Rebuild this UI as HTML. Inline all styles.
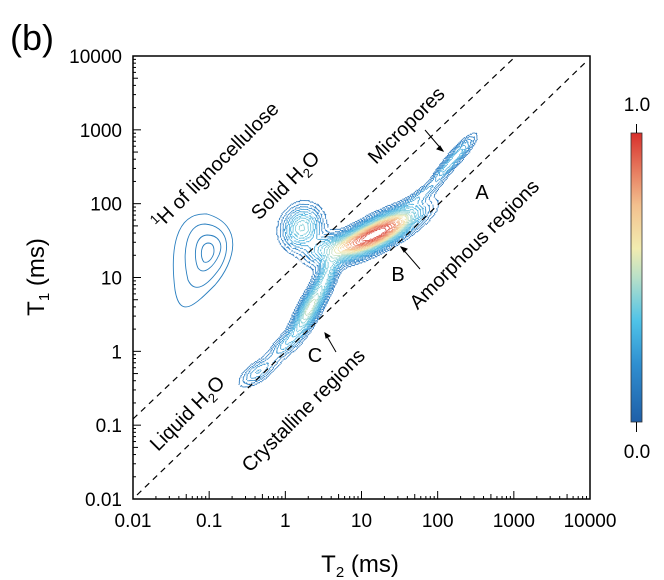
<!DOCTYPE html>
<html><head><meta charset="utf-8"><style>
body{margin:0;background:#fff}
svg{display:block;font-family:"Liberation Sans",Arial,sans-serif}
</style></head><body>
<svg id="s" width="664" height="580" viewBox="0 0 664 580" xmlns="http://www.w3.org/2000/svg">
<defs>
<linearGradient id="cb" x1="0" y1="1" x2="0" y2="0">
<stop offset="0" stop-color="#1f5fa8"/><stop offset="0.2" stop-color="#2f8fd0"/>
<stop offset="0.35" stop-color="#4fc3e8"/><stop offset="0.5" stop-color="#b8e0c8"/>
<stop offset="0.6" stop-color="#f2ecb0"/><stop offset="0.75" stop-color="#f3c08e"/>
<stop offset="1" stop-color="#d8302c"/></linearGradient>
</defs>
<text x="10" y="50" font-size="36">(b)</text>
<g id="contours" fill="none" stroke-width="0.9"></g>
<g stroke="#000" stroke-width="1.2" stroke-dasharray="6,5" fill="none">
<line x1="133" y1="419" x2="516" y2="56"/>
<line x1="137" y1="495" x2="588" y2="60"/>
</g>
<rect x="133" y="56" width="457" height="443" fill="none" stroke="#000" stroke-width="1.5"/>
<g id="ticks" stroke="#000" stroke-width="1"></g>
<g id="labels" font-size="19" fill="#000"></g>
<text x="44" y="277" font-size="24" text-anchor="middle" transform="rotate(-90 44 277)">T<tspan font-size="15" dy="5">1</tspan><tspan dy="-5"> (ms)</tspan></text>
<text x="360" y="572" font-size="24" text-anchor="middle">T<tspan font-size="15" dy="5">2</tspan><tspan dy="-5"> (ms)</tspan></text>
<g font-size="20" fill="#000">
<text transform="translate(220,170) rotate(-45)" text-anchor="middle"><tspan font-size="13" dy="-7">1</tspan><tspan dy="7">H of lignocellulose</tspan></text>
<text transform="translate(290,190) rotate(-45)" text-anchor="middle">Solid H<tspan font-size="13" dy="5">2</tspan><tspan dy="-5">O</tspan></text>
<text transform="translate(411,130) rotate(-45)" text-anchor="middle">Micropores</text>
<text x="482" y="199" text-anchor="middle">A</text>
<text transform="translate(479,249) rotate(-45)" text-anchor="middle">Amorphous regions</text>
<text x="398" y="281" text-anchor="middle">B</text>
<text x="315" y="362" text-anchor="middle">C</text>
<text transform="translate(308,415) rotate(-45)" text-anchor="middle">Crystalline regions</text>
<text transform="translate(192,418) rotate(-45)" text-anchor="middle">Liquid H<tspan font-size="13" dy="5">2</tspan><tspan dy="-5">O</tspan></text>
</g>
<g stroke="#000" stroke-width="1">
<line x1="425" y1="130" x2="443" y2="151"/><path d="M443 151 l-6 -2 l3 -3z" fill="#000"/>
<line x1="420" y1="269" x2="401" y2="247"/><path d="M401 247 l6 2 l-3 3z" fill="#000"/>
<line x1="336" y1="352" x2="325" y2="333"/><path d="M325 333 l5 3 l-4 2z" fill="#000"/>
</g>
<rect x="631" y="133" width="11" height="289" fill="url(#cb)" stroke="#333" stroke-width="0.8"/>
<line x1="636.5" y1="124" x2="636.5" y2="133" stroke="#000"/>
<line x1="636.5" y1="422" x2="636.5" y2="432" stroke="#000"/>
<text x="637" y="111" font-size="19" text-anchor="middle">1.0</text>
<text x="637" y="458" font-size="19" text-anchor="middle">0.0</text>
</svg>
<script>
const NS="http://www.w3.org/2000/svg";
function el(p,t,a){const e=document.createElementNS(NS,t);for(const k in a)e.setAttribute(k,a[k]);p.appendChild(e);return e;}
const tk=document.getElementById('ticks'),lb=document.getElementById('labels');
const X=v=>133+(Math.log10(v)+2)*457/6, Y=v=>499-(Math.log10(v)+2)*443/6;
const names=["0.01","0.1","1","10","100","1000","10000"];
for(let d=-2;d<=4;d++){
 for(let m=1;m<=9;m++){const v=m*Math.pow(10,d);if(v>10000.1)break;
  const L=m==1?8:(m==5?5:3);
  el(tk,'line',{x1:X(v),y1:499,x2:X(v),y2:499-L});
  el(tk,'line',{x1:133,y1:Y(v),x2:133+L,y2:Y(v)});}
 const i=d+2;
 const t1=el(lb,'text',{x:X(Math.pow(10,d)),y:527,'text-anchor':'middle'});t1.textContent=names[i];
 const t2=el(lb,'text',{x:122,y:Y(Math.pow(10,d))+7,'text-anchor':'end'});t2.textContent=names[i];
}
const cg=document.getElementById('contours');
["M207 214 C175 212 170 250 175 290 C180 320 195 305 215 285 C235 262 245 225 207 214Z",
"M205 224 C185 224 182 255 188 280 C195 295 208 285 220 268 C232 248 228 226 205 224Z",
"M207 235 C193 236 194 260 198 268 C204 276 214 266 219 255 C224 243 218 235 207 235Z",
"M208 243 C200 244 200 258 204 262 C209 264 214 256 214 251 C214 246 212 243 208 243Z"
].forEach(d=>el(cg,'path',{d:d,stroke:"#2a7fc0"}));
const G=[
[378,233,30,9,-28,1.0],
[302,228,15,13,-65,0.45],
[322,248,13,7,-35,0.2],
[346,244,16,7,-25,0.22],
[310,308,24,6.5,-62,0.55],
[328,272,14,6,-72,0.22],
[283,345,13,5.5,-45,0.2],
[258,372,15,6.5,-35,0.24],
[425,192,16,4,-36,0.18],
[458,154,17,4.5,-48,0.3],
[442,172,10,3.5,-44,0.15]
].map(g=>({cx:g[0],cy:g[1],sa:g[2],sc:g[3],c:Math.cos(g[4]*Math.PI/180),s:Math.sin(g[4]*Math.PI/180),a:g[5]}));
function f(x,y){let r=0;for(const g of G){const dx=x-g.cx,dy=y-g.cy;const u=dx*g.c+dy*g.s,v=-dx*g.s+dy*g.c;r+=g.a*Math.exp(-(u*u/(2*g.sa*g.sa)+v*v/(2*g.sc*g.sc)));}return r;}
const x0=220,y0=110,x1=500,y1=410,h=1.25;
const nx=Math.ceil((x1-x0)/h)+1,ny=Math.ceil((y1-y0)/h)+1;
const F=new Float32Array(nx*ny);
for(let j=0;j<ny;j++)for(let i=0;i<nx;i++)F[j*nx+i]=f(x0+i*h,y0+j*h);
const stops=[[0,[31,100,175]],[0.15,[40,130,200]],[0.3,[70,180,225]],[0.45,[140,210,215]],[0.58,[240,232,170]],[0.72,[244,190,140]],[0.86,[232,120,95]],[1,[210,50,45]]];
function col(t){for(let k=1;k<stops.length;k++){if(t<=stops[k][0]){const a=stops[k-1],b=stops[k],u=(t-a[0])/(b[0]-a[0]);return 'rgb('+a[1].map((c,i)=>Math.round(c+(b[1][i]-c)*u)).join(',')+')';}}return 'rgb(210,50,45)';}
const levels=[];for(let L=0.08;L<1.0;L+=0.04)levels.push(L);
for(const L of levels){
 let d='';
 for(let j=0;j<ny-1;j++)for(let i=0;i<nx-1;i++){
  const v0=F[j*nx+i],v1=F[j*nx+i+1],v2=F[(j+1)*nx+i+1],v3=F[(j+1)*nx+i];
  const c=(v0>L)+(v1>L)+(v2>L)+(v3>L);if(c==0||c==4)continue;
  const X0=x0+i*h,Y0=y0+j*h,P=[];
  if((v0>L)!=(v1>L))P.push([X0+h*(L-v0)/(v1-v0),Y0]);
  if((v1>L)!=(v2>L))P.push([X0+h,Y0+h*(L-v1)/(v2-v1)]);
  if((v2>L)!=(v3>L))P.push([X0+h*(1-(L-v3)/(v2-v3)),Y0+h]);
  if((v3>L)!=(v0>L))P.push([X0,Y0+h*(1-(L-v0)/(v3-v0))]);
  for(let k=0;k+1<P.length;k+=2)d+='M'+P[k][0].toFixed(1)+' '+P[k][1].toFixed(1)+'L'+P[k+1][0].toFixed(1)+' '+P[k+1][1].toFixed(1);
 }
 if(d)el(cg,'path',{d:d,stroke:col(L),'stroke-width':0.8});
}
</script>
</body></html>
